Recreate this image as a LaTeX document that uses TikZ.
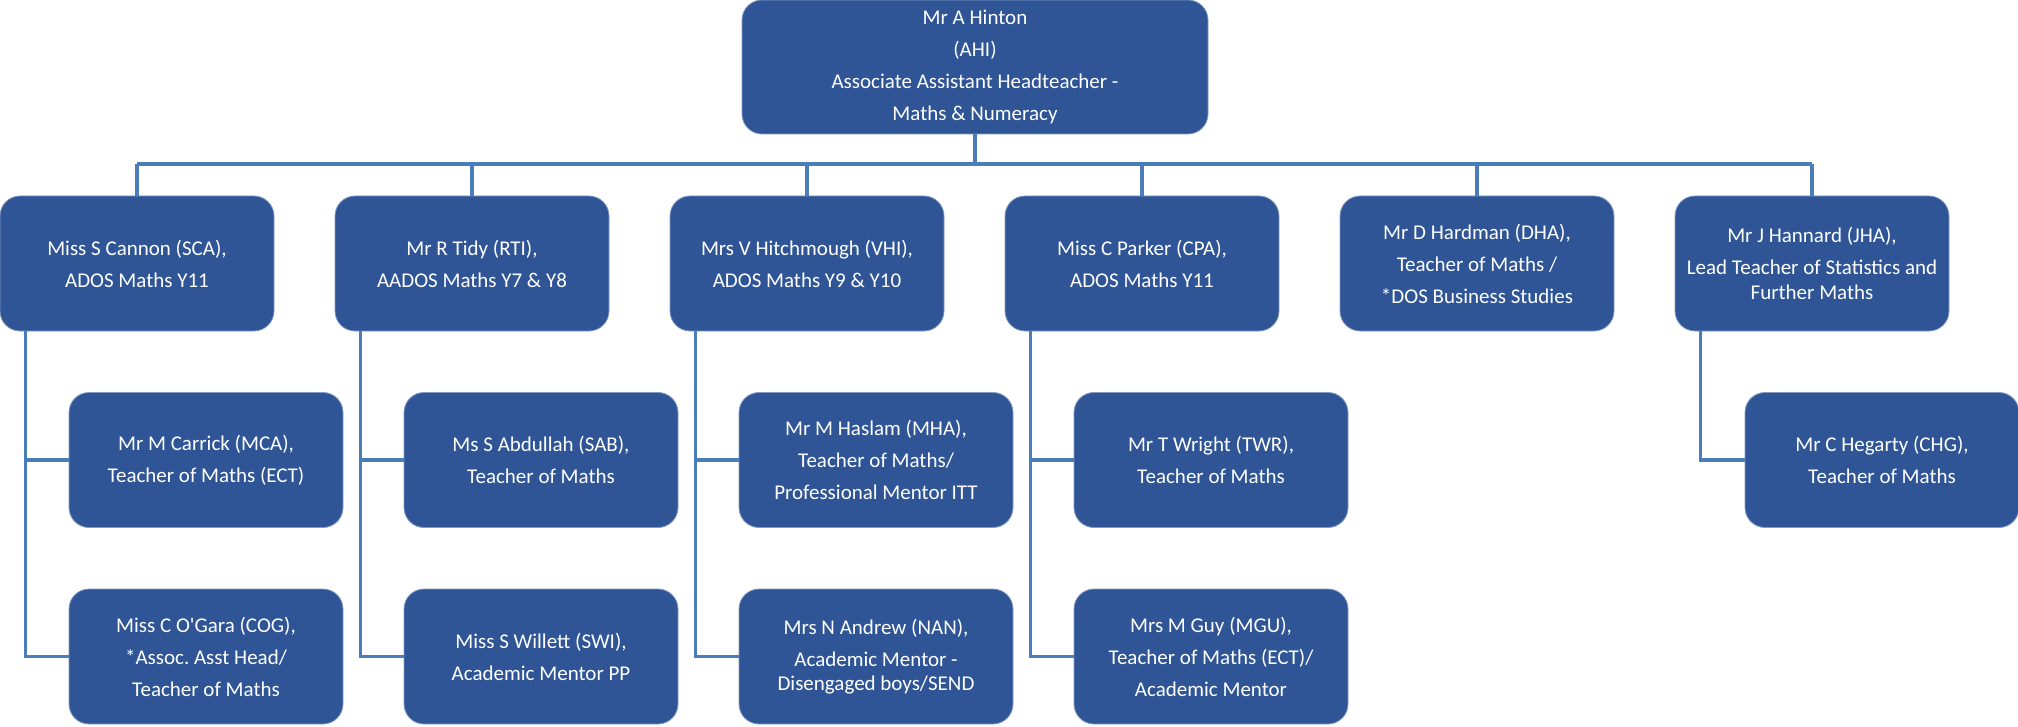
\documentclass[tikz,border=0pt]{standalone}
\usepackage{fontspec}
\setmainfont{Carlito}
\usepackage{xcolor}
\definecolor{boxblue}{HTML}{2F5597}
\definecolor{lineblue}{HTML}{4A7EBB}
\frenchspacing

\tikzset{
    staff/.style={rectangle, rounded corners=20pt, fill=boxblue, draw=boxblue!60!white,
        line width=0.8pt, text=white, align=center, inner sep=0pt,
        minimum width=274pt, minimum height=135pt,
        font=\fontsize{21}{32}\selectfont},
    head/.style={staff, minimum width=466pt, minimum height=134pt},
    link/.style={draw=lineblue, line width=3.2pt}
}

\begin{document}
\begin{tikzpicture}[x=1pt, y=-1pt]
        \useasboundingbox (0,0) rectangle (2018,727);
        % Sizes
        \pgfmathsetmacro{\hop}{335}
        \pgfmathsetmacro{\rowa}{263.5}
        \pgfmathsetmacro{\rowb}{460}
        \pgfmathsetmacro{\rowc}{656.5}

        % head of department
        \node[head] (ahi) at (975, 67) {Mr A Hinton\\(AHI)\\Associate Assistant Headteacher -\\Maths \& Numeracy};

        % second level
        \node[staff] (sca) at (137, \rowa) {Miss S Cannon (SCA),\\ADOS Maths Y11};
        \node[staff] (rti) at (137+\hop, \rowa) {Mr R Tidy (RTI),\\AADOS Maths Y7 \& Y8};
        \node[staff] (vhi) at (137+2*\hop, \rowa) {Mrs V Hitchmough (VHI),\\ADOS Maths Y9 \& Y10};
        \node[staff] (cpa) at (137+3*\hop, \rowa) {Miss C Parker (CPA),\\ADOS Maths Y11};
        \node[staff] (dha) at (137+4*\hop, \rowa) {Mr D Hardman (DHA),\\Teacher of Maths /\\*DOS Business Studies};
        \node[staff] (jha) at (137+5*\hop, \rowa) {Mr J Hannard (JHA),\\Lead Teacher of Statistics and\\[-7pt]Further Maths};

        % third level
        \node[staff] (mca) at (206, \rowb) {Mr M Carrick (MCA),\\Teacher of Maths (ECT)};
        \node[staff] (cog) at (206, \rowc) {Miss C O\textquotesingle Gara (COG),\\*Assoc. Asst Head/\\Teacher of Maths};
        \node[staff] (sab) at (206+\hop, \rowb) {Ms S Abdullah (SAB),\\Teacher of Maths};
        \node[staff] (swi) at (206+\hop, \rowc) {Miss S Willett (SWI),\\Academic Mentor PP};
        \node[staff] (mha) at (206+2*\hop, \rowb) {Mr M Haslam (MHA),\\Teacher of Maths/\\Professional Mentor ITT};
        \node[staff] (nan) at (206+2*\hop, \rowc) {Mrs N Andrew (NAN),\\Academic Mentor -\\[-8pt]Disengaged boys/SEND};
        \node[staff] (twr) at (206+3*\hop, \rowb) {Mr T Wright (TWR),\\Teacher of Maths};
        \node[staff] (mgu) at (206+3*\hop, \rowc) {Mrs M Guy (MGU),\\Teacher of Maths (ECT)/\\Academic Mentor};
        \node[staff] (chg) at (1882, \rowb) {Mr C Hegarty (CHG),\\Teacher of Maths};

        % draw chart
        \coordinate (bus) at (975, 164);
        \draw[link] (ahi.south) -- (bus);
        \draw[link] (sca.north |- bus) -- (jha.north |- bus);
        \draw[link] (sca.north) -- (sca.north |- bus);
        \draw[link] (rti.north) -- (rti.north |- bus);
        \draw[link] (vhi.north) -- (vhi.north |- bus);
        \draw[link] (cpa.north) -- (cpa.north |- bus);
        \draw[link] (dha.north) -- (dha.north |- bus);
        \draw[link] (jha.north) -- (jha.north |- bus);

        \draw[link] ([xshift=26pt]sca.south west) |- (mca.west);
        \draw[link] ([xshift=26pt]sca.south west) |- (cog.west);
        \draw[link] ([xshift=26pt]rti.south west) |- (sab.west);
        \draw[link] ([xshift=26pt]rti.south west) |- (swi.west);
        \draw[link] ([xshift=26pt]vhi.south west) |- (mha.west);
        \draw[link] ([xshift=26pt]vhi.south west) |- (nan.west);
        \draw[link] ([xshift=26pt]cpa.south west) |- (twr.west);
        \draw[link] ([xshift=26pt]cpa.south west) |- (mgu.west);
        \draw[link] ([xshift=26pt]jha.south west) |- (chg.west);
\end{tikzpicture}
\end{document}
